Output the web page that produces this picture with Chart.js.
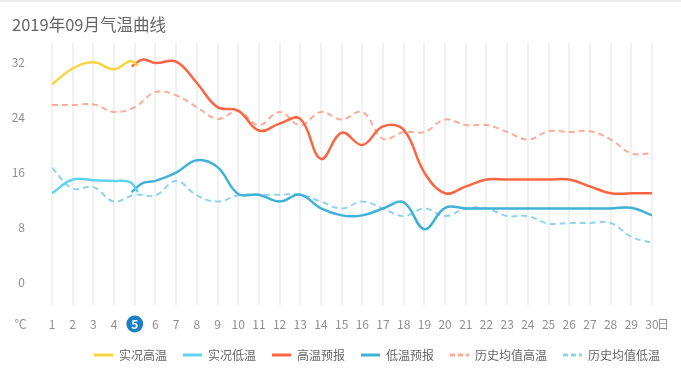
<!DOCTYPE html>
<html>
<head>
<meta charset="utf-8">
<title>2019年09月气温曲线</title>
<script src="https://cdn.jsdelivr.net/npm/chart.js@4/dist/chart.umd.min.js"></script>
<style>
  html, body { margin: 0; padding: 0; background: #fff; }
  canvas { display: block; }
</style>
</head>
<body>
<canvas id="tempChart" width="681" height="373"></canvas>
<script>
// 气温数据
const FONT = "'Noto Sans CJK SC', 'Noto Sans', sans-serif";
const chartTitle = '2019年09月气温曲线';
const todayDay = 5;

const days = [];
for (let d = 1; d <= 30; d++) days.push(d);
const yTicks = [0, 8, 16, 24, 32];

// 实况 (到今天)
const actualDays = [1, 2, 3, 4, 4.8, 5.15];
const actualHigh = [28.8, 31.1, 32, 31, 32.2, 31.5];
const actualLow = [13, 15, 14.9, 14.8, 14.6, 13.2];

// 预报 (从今天起)
const forecastDays = [4.85, 5.4, 6, 7, 8, 9, 10, 11, 12, 13, 14, 15, 16, 17, 18, 19, 20,
  21, 22, 23, 24, 25, 26, 27, 28, 29, 30];
const forecastHigh = [31.4, 32.4, 31.9, 32.1, 29, 25.5, 25, 22.1, 23.1, 23.8, 18, 21.8, 20,
  22.7, 22.2, 16, 13, 14, 15, 15, 15, 15, 15, 14, 13, 13, 13];
const forecastLow = [13.2, 14.5, 14.8, 16, 17.8, 16.8, 12.9, 12.8, 11.8, 12.8, 10.8, 9.8, 9.8,
  10.8, 11.7, 7.8, 10.9, 10.8, 10.8, 10.8, 10.8, 10.8, 10.8, 10.8, 10.8, 10.9, 9.8];

// 历史均值 (整月)
const historyHigh = [25.8, 25.8, 25.9, 24.8, 25.5, 27.7, 27.2, 25.5, 23.8, 24.9, 22.9, 24.8,
  22.9, 24.8, 23.7, 24.8, 20.9, 21.9, 21.9, 23.7, 22.9, 22.9, 21.9, 20.8, 22, 21.9, 22, 20.8,
  18.8, 18.8];
const historyLow = [16.7, 13.7, 13.9, 11.8, 12.8, 12.7, 14.8, 12.7, 11.8, 12.7, 12.8, 12.8,
  12.8, 11.8, 10.8, 11.8, 10.8, 9.7, 10.8, 9.7, 10.8, 10.8, 9.7, 9.7, 8.6, 8.7, 8.7, 8.7,
  6.7, 5.8];

const seriesNames = ['实况高温', '实况低温', '高温预报', '低温预报', '历史均值高温', '历史均值低温'];
const seriesColors = ['#f9d43c', '#5fd3ee', '#fd6542', '#40b1d7', '#fbab98', '#8fd3ec'];

function toPoints(xs, ys) {
  return xs.map((x, i) => ({ x: x, y: ys[i] }));
}

function lineSet(i, xs, ys, dashed) {
  return {
    label: seriesNames[i],
    data: toPoints(xs, ys),
    borderColor: seriesColors[i],
    backgroundColor: seriesColors[i],
    borderWidth: dashed ? 2 : 2.5,
    borderDash: dashed ? [6, 4] : [],
    pointRadius: 0,
    pointHoverRadius: 0,
    fill: false,
    tension: 0.4
  };
}

// 额外绘制: 标题、单位、今天标记
const decorPlugin = {
  id: 'decor',
  beforeDraw(chart) {
    const ctx = chart.ctx;
    ctx.save();
    ctx.fillStyle = '#fff';
    ctx.fillRect(0, 0, chart.width, chart.height);
    ctx.fillStyle = '#ececec';
    ctx.fillRect(0, 0, chart.width, 2);
    ctx.restore();
  },
  afterLayout(chart) {
    // 图例右移, 与原图对齐
    const lg = chart.legend;
    lg.left += 24;
    lg.right += 24;
  },
  afterDraw(chart) {
    const ctx = chart.ctx;
    const xs = chart.scales.x;
    ctx.save();
    ctx.fillStyle = '#666';
    ctx.font = '16.5px ' + FONT;
    ctx.textBaseline = 'middle';
    ctx.textAlign = 'left';
    ctx.fillText(chartTitle, 12, 25);

    ctx.fillStyle = '#8f8f8f';
    ctx.font = '12px ' + FONT;
    ctx.textAlign = 'center';
    ctx.fillText('℃', 20.5, 324);
    ctx.textAlign = 'left';
    ctx.fillText('日', xs.getPixelForValue(30) + 5, 324);

    const cx = xs.getPixelForValue(todayDay);
    ctx.beginPath();
    ctx.arc(cx, 324, 8.4, 0, Math.PI * 2);
    ctx.fillStyle = '#1a80c4';
    ctx.fill();
    ctx.fillStyle = '#fff';
    ctx.font = 'bold 12px ' + FONT;
    ctx.textAlign = 'center';
    ctx.fillText(String(todayDay), cx, 324.5);
    ctx.restore();
  }
};

const chart = new Chart(document.getElementById('tempChart').getContext('2d'), {
  type: 'line',
  data: {
    datasets: [
      lineSet(0, actualDays, actualHigh, false),
      lineSet(1, actualDays, actualLow, false),
      lineSet(2, forecastDays, forecastHigh, false),
      lineSet(3, forecastDays, forecastLow, false),
      lineSet(4, days, historyHigh, true),
      lineSet(5, days, historyLow, true)
    ]
  },
  options: {
    responsive: false,
    animation: false,
    layout: { padding: { top: 43, left: 0, right: 29, bottom: 2 } },
    scales: {
      x: {
        type: 'linear',
        min: 1,
        max: 30,
        afterBuildTicks: s => { s.ticks = days.map(v => ({ value: v })); },
        afterFit: s => { s.height = 28; },
        border: { display: false },
        grid: { color: '#f1f1f1', lineWidth: 2, drawTicks: false },
        ticks: {
          autoSkip: false,
          maxRotation: 0,
          padding: 12,
          font: { size: 12, family: FONT },
          color: c => (c.tick && c.tick.value === todayDay) ? 'rgba(0,0,0,0)' : '#8f8f8f'
        }
      },
      y: {
        min: -3.2,
        max: 34.8,
        afterBuildTicks: s => { s.ticks = yTicks.map(v => ({ value: v })); },
        afterFit: s => { s.width = 52; },
        border: { display: false },
        grid: { display: false, drawTicks: false },
        ticks: {
          padding: 27,
          font: { size: 12, family: FONT },
          color: '#8f8f8f'
        }
      }
    },
    plugins: {
      tooltip: { enabled: false },
      legend: {
        position: 'bottom',
        align: 'end',
        labels: {
          usePointStyle: true,
          pointStyle: 'line',
          pointStyleWidth: 19,
          padding: 16,
          color: '#666',
          font: { size: 12, family: FONT },
          generateLabels: c => {
            const items = Chart.defaults.plugins.legend.labels.generateLabels(c);
            items.forEach((it, i) => {
              it.pointStyle = 'line';
              it.lineWidth = 3;
              it.lineDash = i >= 4 ? [5, 3] : [];
            });
            return items;
          }
        }
      }
    }
  },
  plugins: [decorPlugin]
});
</script>
</body>
</html>
